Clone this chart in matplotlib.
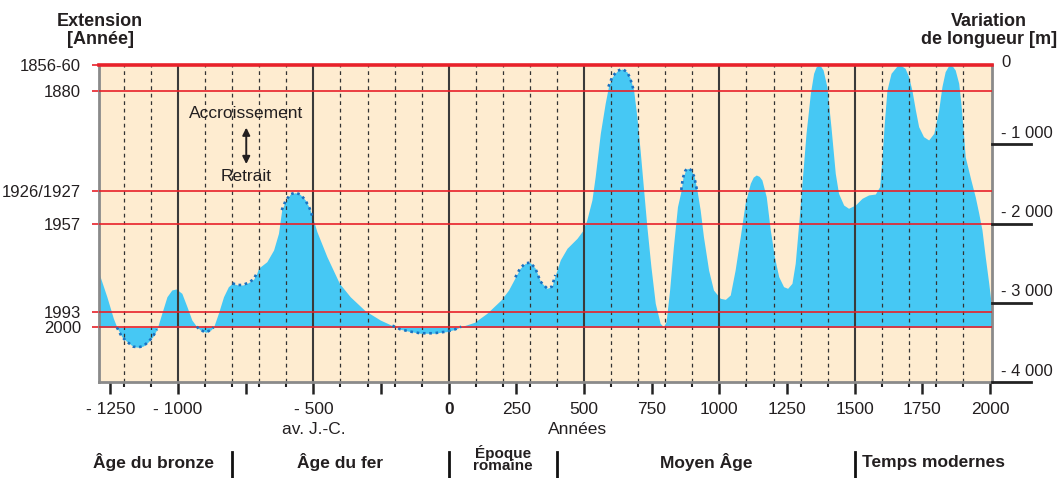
import matplotlib
matplotlib.use('Agg')
import matplotlib.pyplot as plt
import matplotlib.transforms as mtransforms
import numpy as np

plt.rcParams['font.family'] = ['Liberation Sans', 'DejaVu Sans']

# glacier length variation (m), by year
years = [-1292, -1263, -1239, -1226, -1208, -1189, -1165, -1146, -1128, -1109,
         -1093, -1078, -1060, -1041, -1023, -1007, -986, -967, -949, -931,
         -918, -897, -879, -869, -851, -832, -814, -799, -780, -761,
         -740, -721, -709, -703, -672, -647, -629, -617, -604, -586,
         -567, -549, -530, -514, -505, -487, -450, -404, -364, -309,
         -253, -208, -179, -142, -105, -56, -7, 24, 46, 95,
         141, 193, 221, 246, 264, 283, 301, 320, 339, 363,
         381, 394, 412, 437, 474, 495, 510, 529, 541, 560,
         578, 590, 604, 622, 641, 659, 670, 683, 695, 707,
         720, 732, 747, 763, 781, 793, 803, 816, 830, 845,
         859, 865, 874, 882, 895, 907, 917, 929, 941, 960,
         978, 1003, 1022, 1040, 1058, 1077, 1095, 1114, 1125, 1136, 1147, 1157,
         1173, 1188, 1203, 1219, 1237, 1252, 1268, 1280, 1293, 1305,
         1320, 1336, 1348, 1357, 1366, 1375, 1383, 1397, 1412, 1428, 1440, 1459,
         1477, 1502, 1527, 1551, 1576, 1592, 1600, 1609, 1619, 1634,
         1656, 1668, 1686, 1699, 1711, 1724, 1736, 1754, 1773, 1792,
         1810, 1822, 1834, 1845, 1853, 1862, 1871, 1884, 1892, 1900, 1908, 1917,
         1929, 1945, 1958, 1970, 1982, 1995, 2007]
length_m = [-2628, -2924, -3196, -3310, -3428, -3491, -3554, -3562, -3546, -3491,
            -3428, -3335, -3133, -2924, -2839, -2826, -2881, -3050, -3218, -3302,
            -3344, -3373, -3344, -3310, -3133, -2924, -2797, -2755, -2776, -2776,
            -2747, -2704, -2628, -2565, -2482, -2334, -2124, -1830, -1725, -1632,
            -1611, -1632, -1703, -1808, -1900, -2103, -2419, -2755, -2924, -3100,
            -3218, -3289, -3335, -3364, -3385, -3385, -3364, -3335, -3302, -3247,
            -3133, -2965, -2839, -2679, -2565, -2502, -2494, -2565, -2734, -2818,
            -2797, -2650, -2460, -2313, -2187, -2090, -1956, -1703, -1409, -862,
            -483, -273, -151, -76, -50, -88, -164, -315, -652, -1073,
            -1577, -2040, -2545, -3007, -3259, -3302, -3239, -2839, -2292, -1788,
            -1577, -1426, -1334, -1303, -1325, -1409, -1577, -1830, -2166, -2587,
            -2839, -2944, -2957, -2902, -2587, -2166, -1745, -1493, -1415, -1388, -1405, -1451,
            -1662, -2082, -2419, -2671, -2797, -2818, -2755, -2502, -1998, -1493,
            -862, -357, -105, -25, 0, -20, -63, -273, -778, -1367, -1619, -1767,
            -1808, -1767, -1682, -1640, -1628, -1535, -1199, -736, -315, -105,
            -13, 0, -42, -147, -315, -568, -778, -904, -946, -862,
            -568, -273, -84, -18, 0, -20, -63, -231, -483, -800, -1157, -1283,
            -1451, -1662, -1871, -2082, -2419, -2755, -3100]

# stretches of the curve drawn dotted
dotted_spans = [(-1226, -1078), (-931, -869), (-799, -709), (-617, -505),
                (-208, 46), (246, 394), (590, 683), (859, 917)]

ext_labels = ['1856-60', '1880', '1926/1927', '1957', '1993', '2000']
ext_levels = [0, -332, -1586, -2010, -3113, -3310]

len_ticks = [0, -1000, -2000, -3000, -4000]
len_labels = ['0', '- 1 000', '- 2 000', '- 3 000', '- 4 000']

year_ticks = list(range(-1250, 2001, 250))
year_labels = ['- 1250', '- 1000', '', '- 500', '', '0', '250', '500', '750',
               '1000', '1250', '1500', '1750', '2000']

periods = ['Âge du bronze', 'Âge du fer', 'Époque\nromaine', 'Moyen Âge', 'Temps modernes']
period_x = [-1092, -400, 200, 950, 1528]
period_breaks = [-800, 0, 400, 1500]

BLUE = '#46c8f4'
BEIGE = '#feecd0'
RED = '#e8212a'
DOTS = '#1a72c2'
INK = '#231f20'

fig = plt.figure(figsize=(10.63, 4.78), dpi=100)
ax = fig.add_axes([99 / 1063, 1 - 382 / 478, 893 / 1063, 317 / 478])
ax.set_xlim(-1292, 2007)
ax.set_ylim(-4000, 0)
ax.set_facecolor(BEIGE)

yr = np.array(years)
lm = np.array(length_m)
ax.fill_between(yr, lm, ext_levels[-1], color=BLUE, lw=0, zorder=1)

# century grid
for y in range(-1200, 2000, 100):
    if y % 500 == 0:
        ax.axvline(y, color='#3a3a3a', lw=1.5, zorder=2)
    else:
        ax.axvline(y, color='#333333', lw=0.9, ls=(0, (3, 3)), zorder=2)

for lvl in ext_levels:
    ax.axhline(lvl, color=RED, lw=2.6 if lvl == 0 else 1.2, zorder=3,
               clip_on=(lvl != 0))

for a, b in dotted_spans:
    m = (yr >= a) & (yr <= b)
    ax.plot(yr[m], lm[m], color=DOTS, lw=1.9, ls=(0, (1, 1.4)),
            dash_capstyle='butt', zorder=4)

# left axis: glacier extent years
ax.set_yticks(ext_levels, ext_labels)
ax.tick_params(axis='y', which='major', left=True, length=5, width=1.2,
               color=RED, labelcolor=INK, labelsize=12, pad=8)

# bottom axis
ax.set_xticks(year_ticks, year_labels)
ax.set_xticks(range(-1200, 2001, 100), minor=True)
ax.tick_params(axis='x', which='major', length=8.5, width=1.8, color='#222222',
               labelcolor=INK, labelsize=12.5, pad=6)
ax.tick_params(axis='x', which='minor', length=3.8, width=1.5, color='#222222')
ax.get_xticklabels()[5].set_fontweight('bold')

for s in ['left', 'right', 'bottom']:
    ax.spines[s].set_color('#8a8a8a')
    ax.spines[s].set_linewidth(2)
ax.spines['top'].set_visible(False)

# right axis: length variation
trans_r = mtransforms.blended_transform_factory(ax.transAxes, ax.transData)
for v, lab in zip(len_ticks, len_labels):
    if v == 0:
        ax.annotate(lab, xy=(1.0105, v), xycoords=trans_r, xytext=(0, 1.5),
                    textcoords='offset points', ha='left', va='center',
                    fontsize=12, color=INK, annotation_clip=False)
        continue
    ax.plot([1.0, 1.044], [v, v], transform=trans_r, color='#222222', lw=2,
            clip_on=False, zorder=5)
    ax.annotate(lab, xy=(1.0105, v), xycoords=trans_r, xytext=(0, 4.5),
                textcoords='offset points', ha='left', va='baseline',
                fontsize=12, color=INK, annotation_clip=False)

# headers
fig.text(100 / 1063, 1 - 21 / 478, 'Extension', ha='center', va='center',
         fontsize=13, fontweight='bold', color=INK)
fig.text(100 / 1063, 1 - 40 / 478, '[Année]', ha='center', va='center',
         fontsize=13, fontweight='bold', color=INK)
fig.text(989 / 1063, 1 - 21 / 478, 'Variation', ha='center', va='center',
         fontsize=13, fontweight='bold', color=INK)
fig.text(989 / 1063, 1 - 40 / 478, 'de longueur [m]', ha='center', va='center',
         fontsize=13, fontweight='bold', color=INK)

# growth / retreat hint
ax.text(-748, -606, 'Accroissement', ha='center', va='center', fontsize=12.5, color=INK)
ax.annotate('', xy=(-748, -790), xytext=(-748, -1250),
            arrowprops=dict(arrowstyle='<|-|>', color=INK, lw=1.4,
                            mutation_scale=11, shrinkA=0, shrinkB=0))
ax.text(-748, -1409, 'Retrait', ha='center', va='center', fontsize=12.5, color=INK)

# annotations under the axis
trans_b = mtransforms.blended_transform_factory(ax.transData, fig.transFigure)
ax.text(-500, 1 - 429 / 478, 'av. J.-C.', transform=trans_b, ha='center',
        va='center', fontsize=12.5, color=INK)
ax.text(475, 1 - 429 / 478, 'Années', transform=trans_b, ha='center',
        va='center', fontsize=12.5, color=INK)

for name, px in zip(periods, period_x):
    if '\n' in name:
        ax.text(px, 1 - 445 / 478, name, transform=trans_b, ha='center', va='top',
                fontsize=11, fontweight='bold', color=INK, linespacing=0.8,
                clip_on=False)
    else:
        ax.text(px, 1 - 462 / 478, name, transform=trans_b,
                ha='left' if px == period_x[-1] else 'center', va='center',
                fontsize=12.5, fontweight='bold', color=INK)
for b in period_breaks:
    ax.plot([b, b], [1 - 452 / 478, 0], transform=trans_b, color='#111111',
            lw=2, clip_on=False)

fig.savefig('out.png', dpi=100)
